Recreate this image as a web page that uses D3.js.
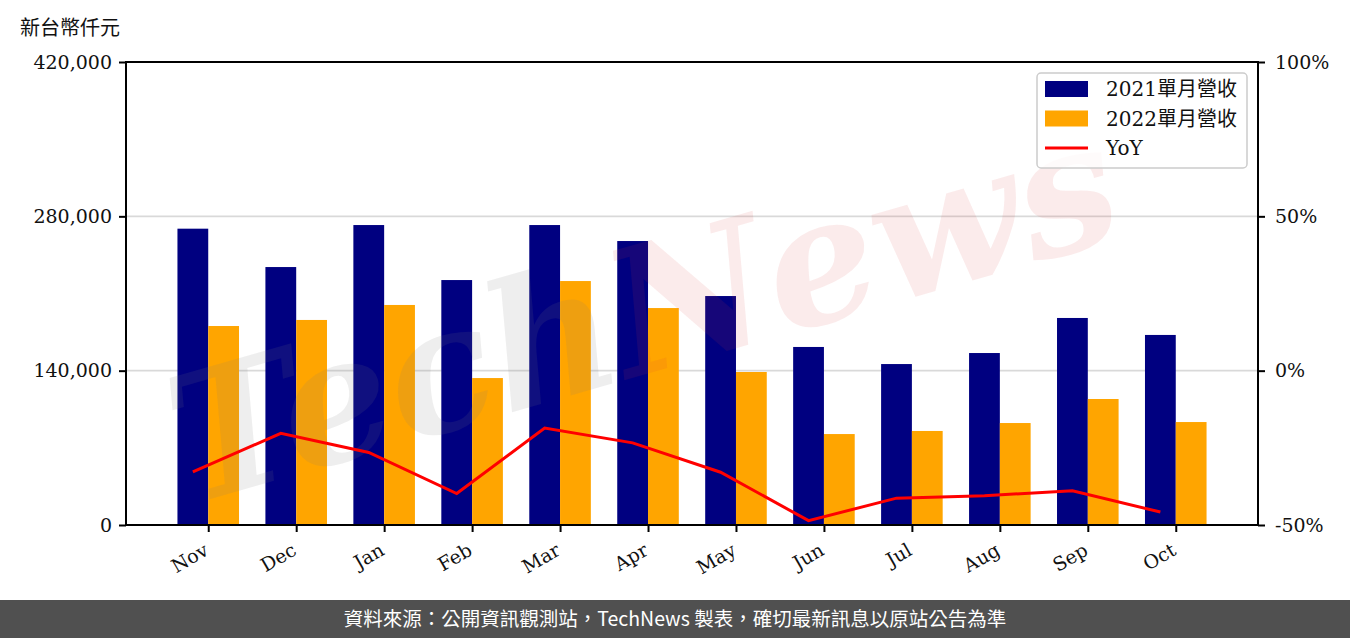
<!DOCTYPE html>
<html><head><meta charset="utf-8">
<script src="https://cdn.jsdelivr.net/npm/d3@7/dist/d3.min.js"></script>
<style>
html,body{margin:0;padding:0;background:#fff;}
svg{display:block;}
</style></head>
<body>
<svg id="chart" width="1350" height="638"></svg>
<script>
const months = ["Nov","Dec","Jan","Feb","Mar","Apr","May","Jun","Jul","Aug","Sep","Oct"];
const rev2021 = [268800, 234000, 272100, 222200, 272100, 257600, 207700, 161500, 146000, 156000, 187800, 172400];
const rev2022 = [180500, 186000, 199600, 133300, 221300, 196800, 138800, 82500, 85300, 92500, 114300, 93400];
const yoy = [-32.8, -20.3, -26.5, -39.8, -18.6, -23.4, -32.9, -48.6, -41.3, -40.5, -38.9, -45.8];
const leftTicks = [0, 140000, 280000, 420000];
const rightTicks = [-50, 0, 50, 100];
const seriesNames = ["2021單月營收", "2022單月營收", "YoY"];
const footerText = "資料來源：公開資訊觀測站，TechNews 製表，確切最新訊息以原站公告為準";
const unitLabel = "新台幣仟元";
const watermark = ["Tech", "News"];

const svg = d3.select("#chart");
const L = 126, R = 1258, T = 62, B = 525;
const barW = 0.35;
const serif = "'DejaVu Serif', 'Noto Sans CJK TC', serif";
const cjk = "'Noto Sans CJK TC', 'Noto Sans', sans-serif";

const x = d3.scaleLinear().domain([-0.935, 11.935]).range([L, R]);
const y = d3.scaleLinear().domain([0, 420000]).range([B, T]);
const y2 = d3.scaleLinear().domain([-50, 100]).range([B, T]);

// gridlines
svg.append("g").selectAll("line").data(leftTicks.slice(1, 3)).join("line")
  .attr("x1", L).attr("x2", R)
  .attr("y1", d => y(d)).attr("y2", d => y(d))
  .attr("stroke", "#d9d9d9").attr("stroke-width", 1.6);

// bars
svg.append("g").selectAll("rect").data(rev2021).join("rect")
  .attr("x", (d, i) => x(i - barW)).attr("width", (d, i) => x(i) - x(i - barW))
  .attr("y", d => y(d)).attr("height", d => B - y(d))
  .attr("fill", "#000080");
svg.append("g").selectAll("rect").data(rev2022).join("rect")
  .attr("x", (d, i) => x(i)).attr("width", (d, i) => x(i + barW) - x(i))
  .attr("y", d => y(d)).attr("height", d => B - y(d))
  .attr("fill", "#FFA500");

// watermark
const wm = svg.append("g").attr("transform", "translate(660,370) rotate(-16)");
wm.append("text").attr("text-anchor", "middle")
  .attr("font-family", "'DejaVu Serif', serif").attr("font-style", "italic").attr("font-weight", "bold")
  .attr("font-size", 175)
  .selectAll("tspan").data([[watermark[0], "rgba(120,120,120,0.13)"], [watermark[1], "rgba(220,60,60,0.10)"]]).join("tspan")
  .attr("fill", d => d[1]).text(d => d[0]);

// YoY line
svg.append("path").datum(yoy)
  .attr("d", d3.line().x((d, i) => x(i - barW / 2)).y(d => y2(d)))
  .attr("fill", "none").attr("stroke", "#FF0000").attr("stroke-width", 3);

// axes
const axL = svg.append("g").attr("transform", `translate(${L},0)`)
  .call(d3.axisLeft(y).tickValues(leftTicks).tickFormat(d3.format(",")).tickSize(7).tickPadding(7));
const axR = svg.append("g").attr("transform", `translate(${R},0)`)
  .call(d3.axisRight(y2).tickValues(rightTicks).tickFormat(d => d + "%").tickSize(7).tickPadding(10));
const axB = svg.append("g").attr("transform", `translate(0,${B})`)
  .call(d3.axisBottom(x).tickValues(d3.range(months.length)).tickFormat(i => months[i]).tickSize(7));
[axL, axR, axB].forEach(a => {
  a.select(".domain").remove();
  a.selectAll(".tick line").attr("stroke", "#000").attr("stroke-width", 2);
  a.selectAll("text").attr("font-family", serif).attr("font-size", 19).attr("fill", "#111");
});
axB.selectAll(".tick text")
  .attr("text-anchor", "end").attr("dy", null).attr("y", null)
  .attr("transform", "translate(1,29) rotate(-30)");

// frame
svg.append("rect").attr("x", L).attr("y", T).attr("width", R - L).attr("height", B - T)
  .attr("fill", "none").attr("stroke", "#000").attr("stroke-width", 2);

// unit label
svg.append("text").attr("x", 20).attr("y", 35).attr("font-family", cjk).attr("font-size", 20)
  .attr("fill", "#111").text(unitLabel);

// legend
const lg = svg.append("g");
lg.append("rect").attr("x", 1037).attr("y", 73).attr("width", 210).attr("height", 95)
  .attr("rx", 4).attr("fill", "#fff").attr("fill-opacity", 0.8).attr("stroke", "#cccccc").attr("stroke-width", 1.5);
const items = [
  {name: seriesNames[0], type: "rect", color: "#000080"},
  {name: seriesNames[1], type: "rect", color: "#FFA500"},
  {name: seriesNames[2], type: "line", color: "#FF0000"}
];
items.forEach((it, k) => {
  const cy = 89 + k * 29.5;
  if (it.type === "rect") {
    lg.append("rect").attr("x", 1045).attr("y", cy - 8).attr("width", 43).attr("height", 16).attr("fill", it.color);
  } else {
    lg.append("line").attr("x1", 1045).attr("x2", 1088).attr("y1", cy).attr("y2", cy)
      .attr("stroke", it.color).attr("stroke-width", 3);
  }
  lg.append("text").attr("x", 1106).attr("y", cy + 7)
    .attr("font-family", serif).attr("font-size", 20).attr("fill", "#111")
    .text(it.name);
});

// footer
svg.append("rect").attr("x", 0).attr("y", 600).attr("width", 1350).attr("height", 38).attr("fill", "#505050");
svg.append("text").attr("x", 675).attr("y", 626).attr("text-anchor", "middle")
  .attr("font-family", cjk).attr("font-size", 19.5).attr("fill", "#ffffff").text(footerText);
</script>
</body></html>
